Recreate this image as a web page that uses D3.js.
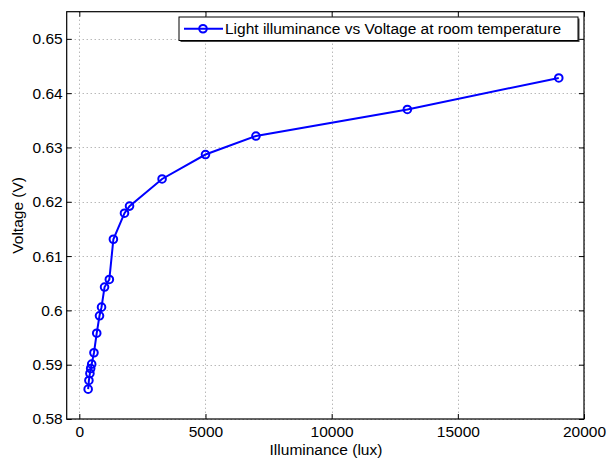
<!DOCTYPE html>
<html><head><meta charset="utf-8">
<script src="https://cdn.jsdelivr.net/npm/d3@7"></script>
<style>body{margin:0;background:#fff}svg{display:block}text{font-family:"Liberation Sans",Arial,Helvetica,sans-serif}</style>
</head><body>
<svg id="c" width="608" height="458"></svg>
<script>
const illuminance = [350, 380, 420, 450, 490, 580, 690, 800, 880, 1000, 1190, 1350, 1790, 1990, 3280, 5000, 7000, 13000, 19000];
const voltage = [0.5855, 0.5871, 0.5884, 0.5893, 0.5901, 0.5922, 0.5958, 0.5990, 0.6006, 0.6043, 0.6057, 0.6131, 0.6179, 0.6192, 0.6242, 0.6287, 0.6321, 0.6370, 0.6428];
const xTicks = [0, 5000, 10000, 15000, 20000];
const yTicks = [0.58, 0.59, 0.60, 0.61, 0.62, 0.63, 0.64, 0.65];
const seriesName = "Light illuminance vs Voltage at room temperature";
const xLabel = "Illuminance (lux)";
const yLabel = "Voltage (V)";

const L = 66.7, R = 584, T = 11.7, B = 419;
const fs = 15.5;
const svg = d3.select("#c");
const x = d3.scaleLinear().domain([-500, 20000]).range([L, R]);
const y = d3.scaleLinear().domain([0.58, 0.655]).range([B, T]);
const data = illuminance.map((v, i) => [v, voltage[i]]);

// grid
const g = svg.append("g");
g.selectAll(".gx").data(xTicks).join("line")
  .attr("x1", d => Math.round(x(d)) + 0.5).attr("x2", d => Math.round(x(d)) + 0.5)
  .attr("y1", T).attr("y2", B).attr("stroke", "#999").attr("stroke-dasharray", "1,3");
g.selectAll(".gy").data(yTicks).join("line")
  .attr("y1", d => Math.round(y(d)) + 0.5).attr("y2", d => Math.round(y(d)) + 0.5)
  .attr("x1", L).attr("x2", R).attr("stroke", "#999").attr("stroke-dasharray", "1,3");

// axes
const fmtY = d => String(+d.toFixed(2));
const ax = (gen, tr) => svg.append("g").attr("transform", tr).call(gen)
  .call(s => s.select(".domain").remove())
  .call(s => s.selectAll("text").style("font-size", fs + "px").attr("fill", "#000"))
  .call(s => s.selectAll("line").attr("stroke", "#000"));
ax(d3.axisBottom(x).tickValues(xTicks).tickSize(-5).tickPadding(7).tickFormat(d3.format("d")), `translate(0,${B})`);
ax(d3.axisTop(x).tickValues(xTicks).tickSize(-5).tickFormat(""), `translate(0,${T})`);
ax(d3.axisLeft(y).tickValues(yTicks).tickSize(-5).tickPadding(4).tickFormat(fmtY), `translate(${L},0)`);
ax(d3.axisRight(y).tickValues(yTicks).tickSize(-5).tickFormat(""), `translate(${R},0)`);
svg.append("rect").attr("x", L).attr("y", T).attr("width", R - L).attr("height", B - T)
  .attr("fill", "none").attr("stroke", "#000").attr("stroke-width", 1.2);

// labels
svg.append("text").attr("x", 326).attr("y", 455).attr("text-anchor", "middle")
  .style("font-size", fs + "px").text(xLabel);
svg.append("text").attr("transform", `translate(23,${(T + B) / 2}) rotate(-90)`).attr("text-anchor", "middle")
  .style("font-size", fs + "px").text(yLabel);

// series
svg.append("path").datum(data)
  .attr("d", d3.line().x(d => x(d[0])).y(d => y(d[1])))
  .attr("fill", "none").attr("stroke", "#0000ff").attr("stroke-width", 2);
svg.selectAll(".pt").data(data).join("circle")
  .attr("cx", d => x(d[0])).attr("cy", d => y(d[1])).attr("r", 3.8)
  .attr("fill", "none").attr("stroke", "#0000ff").attr("stroke-width", 2);

// legend
const lg = svg.append("g");
const lx = 179, ly = 17, lw = 399, lh = 23.5;
lg.append("rect").attr("x", lx + 1.5).attr("y", ly + 1.5).attr("width", lw).attr("height", lh).attr("fill", "#444");
lg.append("rect").attr("x", lx).attr("y", ly).attr("width", lw).attr("height", lh).attr("fill", "#fff").attr("stroke", "#000");
const lyc = ly + lh / 2;
lg.append("line").attr("x1", lx + 5).attr("x2", lx + 44).attr("y1", lyc).attr("y2", lyc)
  .attr("stroke", "#0000ff").attr("stroke-width", 2);
lg.append("circle").attr("cx", lx + 24).attr("cy", lyc).attr("r", 3.8)
  .attr("fill", "none").attr("stroke", "#0000ff").attr("stroke-width", 2);
lg.append("text").attr("x", lx + 46).attr("y", lyc + 5.5).style("font-size", fs + "px").text(seriesName);
</script>
</body></html>
